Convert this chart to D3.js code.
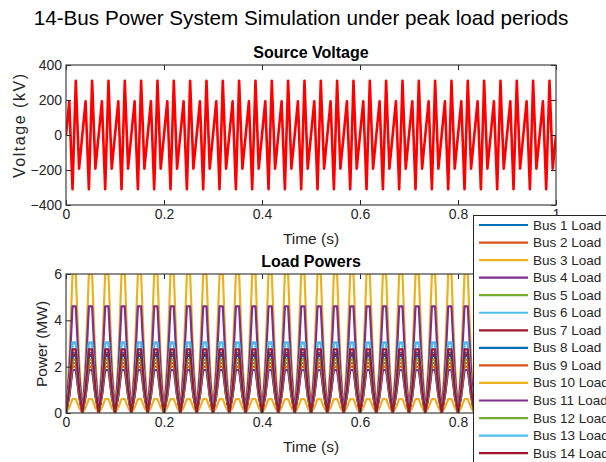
<!DOCTYPE html>
<html lang="en">
<head>
<meta charset="UTF-8">
<title>14-Bus Power System Simulation</title>
<script src="https://cdn.jsdelivr.net/npm/d3@7"></script>
<style>
  body { margin: 0; background: #fff; }
  svg { display: block; font-family: "Liberation Sans", Arial, sans-serif; }
  .tick text { font-size: 14px; fill: #262626; }
  .tick line { stroke: #262626; }
</style>
</head>
<body>
<script>
// sample times (s), one sample every ~6.7 ms
var timeS = [
  0,0.0067,0.0133,0.02,0.0267,0.0333,0.04,0.0467,0.0533,0.06,0.0667,0.0733,0.08,0.0867,0.0933,
  0.1,0.1067,0.1133,0.12,0.1267,0.1333,0.14,0.1467,0.1533,0.16,0.1667,0.1733,0.18,0.1867,0.1933,
  0.2,0.2067,0.2133,0.22,0.2267,0.2333,0.24,0.2467,0.2533,0.26,0.2667,0.2733,0.28,0.2867,0.2933,
  0.3,0.3067,0.3133,0.32,0.3267,0.3333,0.34,0.3467,0.3533,0.36,0.3667,0.3733,0.38,0.3867,0.3933,
  0.4,0.4067,0.4133,0.42,0.4267,0.4333,0.44,0.4467,0.4533,0.46,0.4667,0.4733,0.48,0.4867,0.4933,
  0.5,0.5067,0.5133,0.52,0.5267,0.5333,0.54,0.5467,0.5533,0.56,0.5667,0.5733,0.58,0.5867,0.5933,
  0.6,0.6067,0.6133,0.62,0.6267,0.6333,0.64,0.6467,0.6533,0.66,0.6667,0.6733,0.68,0.6867,0.6933,
  0.7,0.7067,0.7133,0.72,0.7267,0.7333,0.74,0.7467,0.7533,0.76,0.7667,0.7733,0.78,0.7867,0.7933,
  0.8,0.8067,0.8133,0.82,0.8267,0.8333,0.84,0.8467,0.8533,0.86,0.8667,0.8733,0.88,0.8867,0.8933,
  0.9,0.9067,0.9133,0.92,0.9267,0.9333,0.94,0.9467,0.9533,0.96,0.9667,0.9733,0.98,0.9867,0.9933,
  1
];

// source voltage (kV) at each sample
var voltageKV = [
  0,192,-310,310,-192,0,192,-310,310,-192,0,192,-310,310,-192,
  0,192,-310,310,-192,0,192,-310,310,-192,0,192,-310,310,-192,
  0,192,-310,310,-192,0,192,-310,310,-192,0,192,-310,310,-192,
  0,192,-310,310,-192,0,192,-310,310,-192,0,192,-310,310,-192,
  0,192,-310,310,-192,0,192,-310,310,-192,0,192,-310,310,-192,
  0,192,-310,310,-192,0,192,-310,310,-192,0,192,-310,310,-192,
  0,192,-310,310,-192,0,192,-310,310,-192,0,192,-310,310,-192,
  0,192,-310,310,-192,0,192,-310,310,-192,0,192,-310,310,-192,
  0,192,-310,310,-192,0,192,-310,310,-192,0,192,-310,310,-192,
  0,192,-310,310,-192,0,192,-310,310,-192,0,192,-310,310,-192,
  0
];

// load profile at each sample, as a fraction of each bus's peak
var loadShape = [
  0,0.38,1,1,0.38,0,0.38,1,1,0.38,0,0.38,1,1,0.38,
  0,0.38,1,1,0.38,0,0.38,1,1,0.38,0,0.38,1,1,0.38,
  0,0.38,1,1,0.38,0,0.38,1,1,0.38,0,0.38,1,1,0.38,
  0,0.38,1,1,0.38,0,0.38,1,1,0.38,0,0.38,1,1,0.38,
  0,0.38,1,1,0.38,0,0.38,1,1,0.38,0,0.38,1,1,0.38,
  0,0.38,1,1,0.38,0,0.38,1,1,0.38,0,0.38,1,1,0.38,
  0,0.38,1,1,0.38,0,0.38,1,1,0.38,0,0.38,1,1,0.38,
  0,0.38,1,1,0.38,0,0.38,1,1,0.38,0,0.38,1,1,0.38,
  0,0.38,1,1,0.38,0,0.38,1,1,0.38,0,0.38,1,1,0.38,
  0,0.38,1,1,0.38,0,0.38,1,1,0.38,0,0.38,1,1,0.38,
  0
];

var busNames = ["Bus 1 Load","Bus 2 Load","Bus 3 Load","Bus 4 Load","Bus 5 Load","Bus 6 Load","Bus 7 Load",
                "Bus 8 Load","Bus 9 Load","Bus 10 Load","Bus 11 Load","Bus 12 Load","Bus 13 Load","Bus 14 Load"];
// peak power of each bus (MW)
var busPeakMW = [2.6, 2.15, 6.0, 4.6, 2.3, 3.0, 2.5, 2.45, 2.0, 0.6, 1.85, 2.3, 3.05, 2.75];

var voltTicks = [-400, -200, 0, 200, 400];
var powerTicks = [0, 2, 4, 6];
var timeTicks = [0, 0.2, 0.4, 0.6, 0.8, 1];

// matlab default line colours
var lineColors = ["#0072BD","#D95319","#EDB120","#7E2F8E","#77AC30","#4DBEEE","#A2142F"];

var width = 606, height = 462;
var left = 66, right = 556;
var top1 = 65, bot1 = 205;
var top2 = 274, bot2 = 413;

var svg = d3.select("body").append("svg")
    .attr("width", width)
    .attr("height", height);

svg.append("text")
    .attr("x", 301).attr("y", 25)
    .attr("text-anchor", "middle")
    .attr("font-size", 20.7)
    .attr("fill", "#000")
    .text("14-Bus Power System Simulation under peak load periods");

var x = d3.scaleLinear().domain([0, 1]).range([left, right]);
var yV = d3.scaleLinear().domain([-400, 400]).range([bot1, top1]);
var yP = d3.scaleLinear().domain([0, 6]).range([bot2, top2]);

// draws box, inward ticks on all sides, labels
function drawAxes(g, y, yTicks, y0, y1, title) {
    var h = y1 - y0;
    g.append("g").attr("transform", "translate(0," + y1 + ")")
        .call(d3.axisBottom(x).tickValues(timeTicks).tickFormat(d3.format("~g")).tickSizeInner(-5).tickSizeOuter(0).tickPadding(4));
    g.append("g").attr("transform", "translate(0," + y0 + ")")
        .call(d3.axisTop(x).tickValues(timeTicks).tickFormat("").tickSizeInner(-5).tickSizeOuter(0));
    g.append("g").attr("transform", "translate(" + left + ",0)")
        .call(d3.axisLeft(y).tickValues(yTicks).tickFormat(d3.format("~g")).tickSizeInner(-5).tickSizeOuter(0).tickPadding(4));
    g.append("g").attr("transform", "translate(" + right + ",0)")
        .call(d3.axisRight(y).tickValues(yTicks).tickFormat("").tickSizeInner(-5).tickSizeOuter(0));
    g.selectAll(".domain").remove();
    g.selectAll(".tick line").attr("stroke", "#262626");

    g.append("rect")
        .attr("x", left).attr("y", y0)
        .attr("width", right - left).attr("height", h)
        .attr("fill", "none")
        .attr("stroke", "#404040")
        .attr("stroke-width", 1.2);

    g.append("text")
        .attr("x", (left + right) / 2).attr("y", y0 - 7)
        .attr("text-anchor", "middle")
        .attr("font-size", 16).attr("font-weight", "bold")
        .attr("fill", "#000")
        .text(title);

    g.append("text")
        .attr("x", (left + right) / 2).attr("y", y1 + 39)
        .attr("text-anchor", "middle")
        .attr("font-size", 15.5).attr("fill", "#262626")
        .text("Time (s)");
}

// clip regions
var defs = svg.append("defs");
defs.append("clipPath").attr("id", "clip1").append("rect")
    .attr("x", left).attr("y", top1).attr("width", right - left).attr("height", bot1 - top1);
defs.append("clipPath").attr("id", "clip2").append("rect")
    .attr("x", left).attr("y", top2).attr("width", right - left).attr("height", bot2 - top2);

// top panel : source voltage
var g1 = svg.append("g");
var vLine = d3.line()
    .x(function (d, i) { return x(timeS[i]); })
    .y(function (d) { return yV(d); });
g1.append("path")
    .datum(voltageKV)
    .attr("clip-path", "url(#clip1)")
    .attr("d", vLine)
    .attr("fill", "none")
    .attr("stroke", "#ff0000")
    .attr("stroke-width", 2.6)
    .attr("stroke-linejoin", "round");
drawAxes(g1, yV, voltTicks, top1, bot1, "Source Voltage");
g1.append("text")
    .attr("transform", "translate(25,126) rotate(-90)")
    .attr("text-anchor", "middle")
    .attr("font-size", 16)
    .attr("fill", "#262626")
    .attr("textLength", 104)
    .attr("lengthAdjust", "spacing")
    .text("Voltage (kV)");

// bottom panel : load powers
var loads = busPeakMW.map(function (p) {
    return loadShape.map(function (s) { return p * s; });
});
var g2 = svg.append("g");
var pLine = d3.line()
    .x(function (d, i) { return x(timeS[i]); })
    .y(function (d) { return yP(d); });
g2.append("g").attr("clip-path", "url(#clip2)")
    .selectAll("path")
    .data(loads)
    .enter()
    .append("path")
    .attr("d", pLine)
    .attr("fill", "none")
    .attr("stroke", function (d, i) { return lineColors[i % 7]; })
    .attr("stroke-width", 2.2)
    .attr("stroke-linejoin", "round");
drawAxes(g2, yP, powerTicks, top2, bot2, "Load Powers");
g2.append("text")
    .attr("transform", "translate(47,344) rotate(-90)")
    .attr("text-anchor", "middle")
    .attr("font-size", 15.5)
    .attr("fill", "#262626")
    .text("Power (MW)");

// legend, overlapping the lower right
var lg = svg.append("g");
lg.append("rect")
    .attr("x", 473.5).attr("y", 215.5)
    .attr("width", 200).attr("height", 300)
    .attr("fill", "#fff")
    .attr("stroke", "#262626")
    .attr("stroke-width", 1);
var item = lg.selectAll(".item")
    .data(busNames)
    .enter()
    .append("g")
    .attr("class", "item")
    .attr("transform", function (d, i) { return "translate(0," + (225 + i * 17.55) + ")"; });
item.append("line")
    .attr("x1", 479).attr("x2", 528)
    .attr("stroke", function (d, i) { return lineColors[i % 7]; })
    .attr("stroke-width", 2.2);
item.append("text")
    .attr("x", 533).attr("y", 4.5)
    .attr("font-size", 13.5)
    .attr("fill", "#262626")
    .text(function (d) { return d; });
</script>
</body>
</html>
